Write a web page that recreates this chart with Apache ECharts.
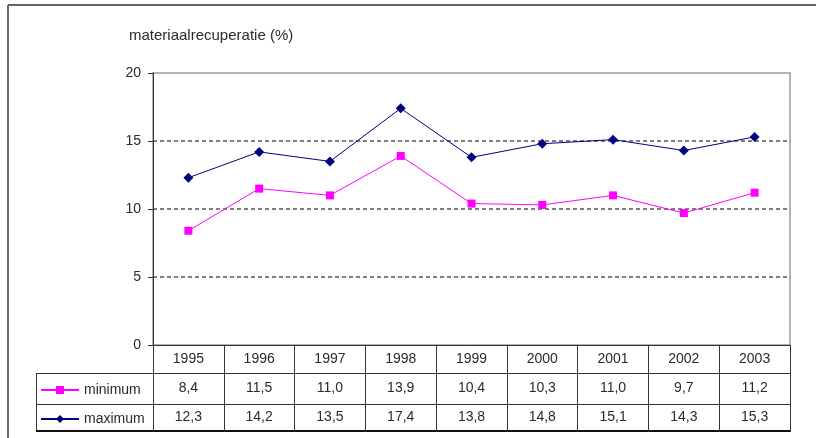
<!DOCTYPE html>
<html>
<head>
<meta charset="utf-8">
<script src="https://cdn.jsdelivr.net/npm/echarts@6/dist/echarts.min.js"></script>
<style>
html,body{margin:0;padding:0;background:#fff;}
#c{width:816px;height:438px;}
</style>
</head>
<body>
<div id="c"></div>
<script>
const years = ['1995','1996','1997','1998','1999','2000','2001','2002','2003'];
const minimum = [8.4, 11.5, 11.0, 13.9, 10.4, 10.3, 11.0, 9.7, 11.2];
const maximum = [12.3, 14.2, 13.5, 17.4, 13.8, 14.8, 15.1, 14.3, 15.3];
const yTicks = [0, 5, 10, 15, 20];
const titleText = 'materiaalrecuperatie (%)';
const seriesNames = ['minimum', 'maximum'];

const fmt = v => v.toFixed(1).replace('.', ',');
const FONT = 'Liberation Sans, Arial, sans-serif';
const TXT = '#2a2a2a';
const FS = 14;

const chart = echarts.init(document.getElementById('c'), null, {renderer: 'canvas'});

function tableAxis(labels, margin, base) {
  return Object.assign({
    type: 'category',
    data: years,
    gridIndex: 0,
    position: 'bottom',
    boundaryGap: true,
    axisLine: {show: false},
    axisTick: {show: false},
    splitLine: {show: false},
    axisLabel: {
      show: true, interval: 0, margin: margin,
      fontFamily: FONT, fontSize: FS, color: TXT,
      formatter: (v, i) => labels[i]
    }
  }, base || {});
}

const option = {
  animation: false,
  backgroundColor: '#fff',
  title: {
    text: titleText,
    left: 124, top: 23,
    textStyle: {fontFamily: FONT, fontSize: 15, fontWeight: 'normal', color: TXT}
  },
  grid: {
    left: 153, right: 26, top: 73, bottom: 93,
    show: true, borderColor: '#9a9a9a', borderWidth: 1.5, backgroundColor: 'transparent'
  },
  legend: {
    orient: 'vertical',
    left: 35, top: 383, padding: [0, 5],
    itemWidth: 38, itemHeight: 10, itemGap: 15,
    textStyle: {fontFamily: FONT, fontSize: FS, color: TXT},
    data: seriesNames
  },
  xAxis: [
    tableAxis(years, 7, {
      axisLine: {show: true, lineStyle: {color: '#333', width: 1}},
      axisTick: {show: true, length: 87, inside: false, alignWithLabel: false, interval: 0,
                 lineStyle: {color: '#333', width: 1}}
    }),
    tableAxis(minimum.map(fmt), 36),
    tableAxis(maximum.map(fmt), 65)
  ],
  yAxis: {
    type: 'value',
    min: yTicks[0], max: yTicks[yTicks.length - 1], interval: yTicks[1] - yTicks[0],
    axisLine: {show: true, lineStyle: {color: '#333', width: 1}},
    axisTick: {show: true, length: 5, lineStyle: {color: '#333'}},
    axisLabel: {margin: 12, fontFamily: FONT, fontSize: FS, color: TXT},
    splitLine: {
      show: true, showMinLine: false, showMaxLine: false,
      lineStyle: {color: '#555', width: 1.5, type: [4, 3]}
    }
  },
  series: [
    {
      name: seriesNames[0], type: 'line', data: minimum, xAxisIndex: 0,
      symbol: 'rect', symbolSize: 8,
      lineStyle: {color: '#ff00ff', width: 1},
      itemStyle: {color: '#ff00ff'}
    },
    {
      name: seriesNames[1], type: 'line', data: maximum, xAxisIndex: 0,
      symbol: 'diamond', symbolSize: 10,
      lineStyle: {color: '#000080', width: 1},
      itemStyle: {color: '#000080'}
    }
  ],
  graphic: [
    {type: 'line', shape: {x1: 8, y1: 5, x2: 816, y2: 5}, style: {stroke: '#666', lineWidth: 2}},
    {type: 'line', shape: {x1: 8, y1: 5, x2: 8, y2: 438}, style: {stroke: '#666', lineWidth: 2}},
    {type: 'line', shape: {x1: 36, y1: 373.5, x2: 790, y2: 373.5}, style: {stroke: '#333', lineWidth: 1}},
    {type: 'line', shape: {x1: 36, y1: 404.5, x2: 790, y2: 404.5}, style: {stroke: '#333', lineWidth: 1}},
    {type: 'line', shape: {x1: 36, y1: 431, x2: 791, y2: 431}, style: {stroke: '#111', lineWidth: 2}},
    {type: 'line', shape: {x1: 36.5, y1: 373, x2: 36.5, y2: 431}, style: {stroke: '#333', lineWidth: 1}}
  ]
};
chart.setOption(option);
</script>
</body>
</html>
